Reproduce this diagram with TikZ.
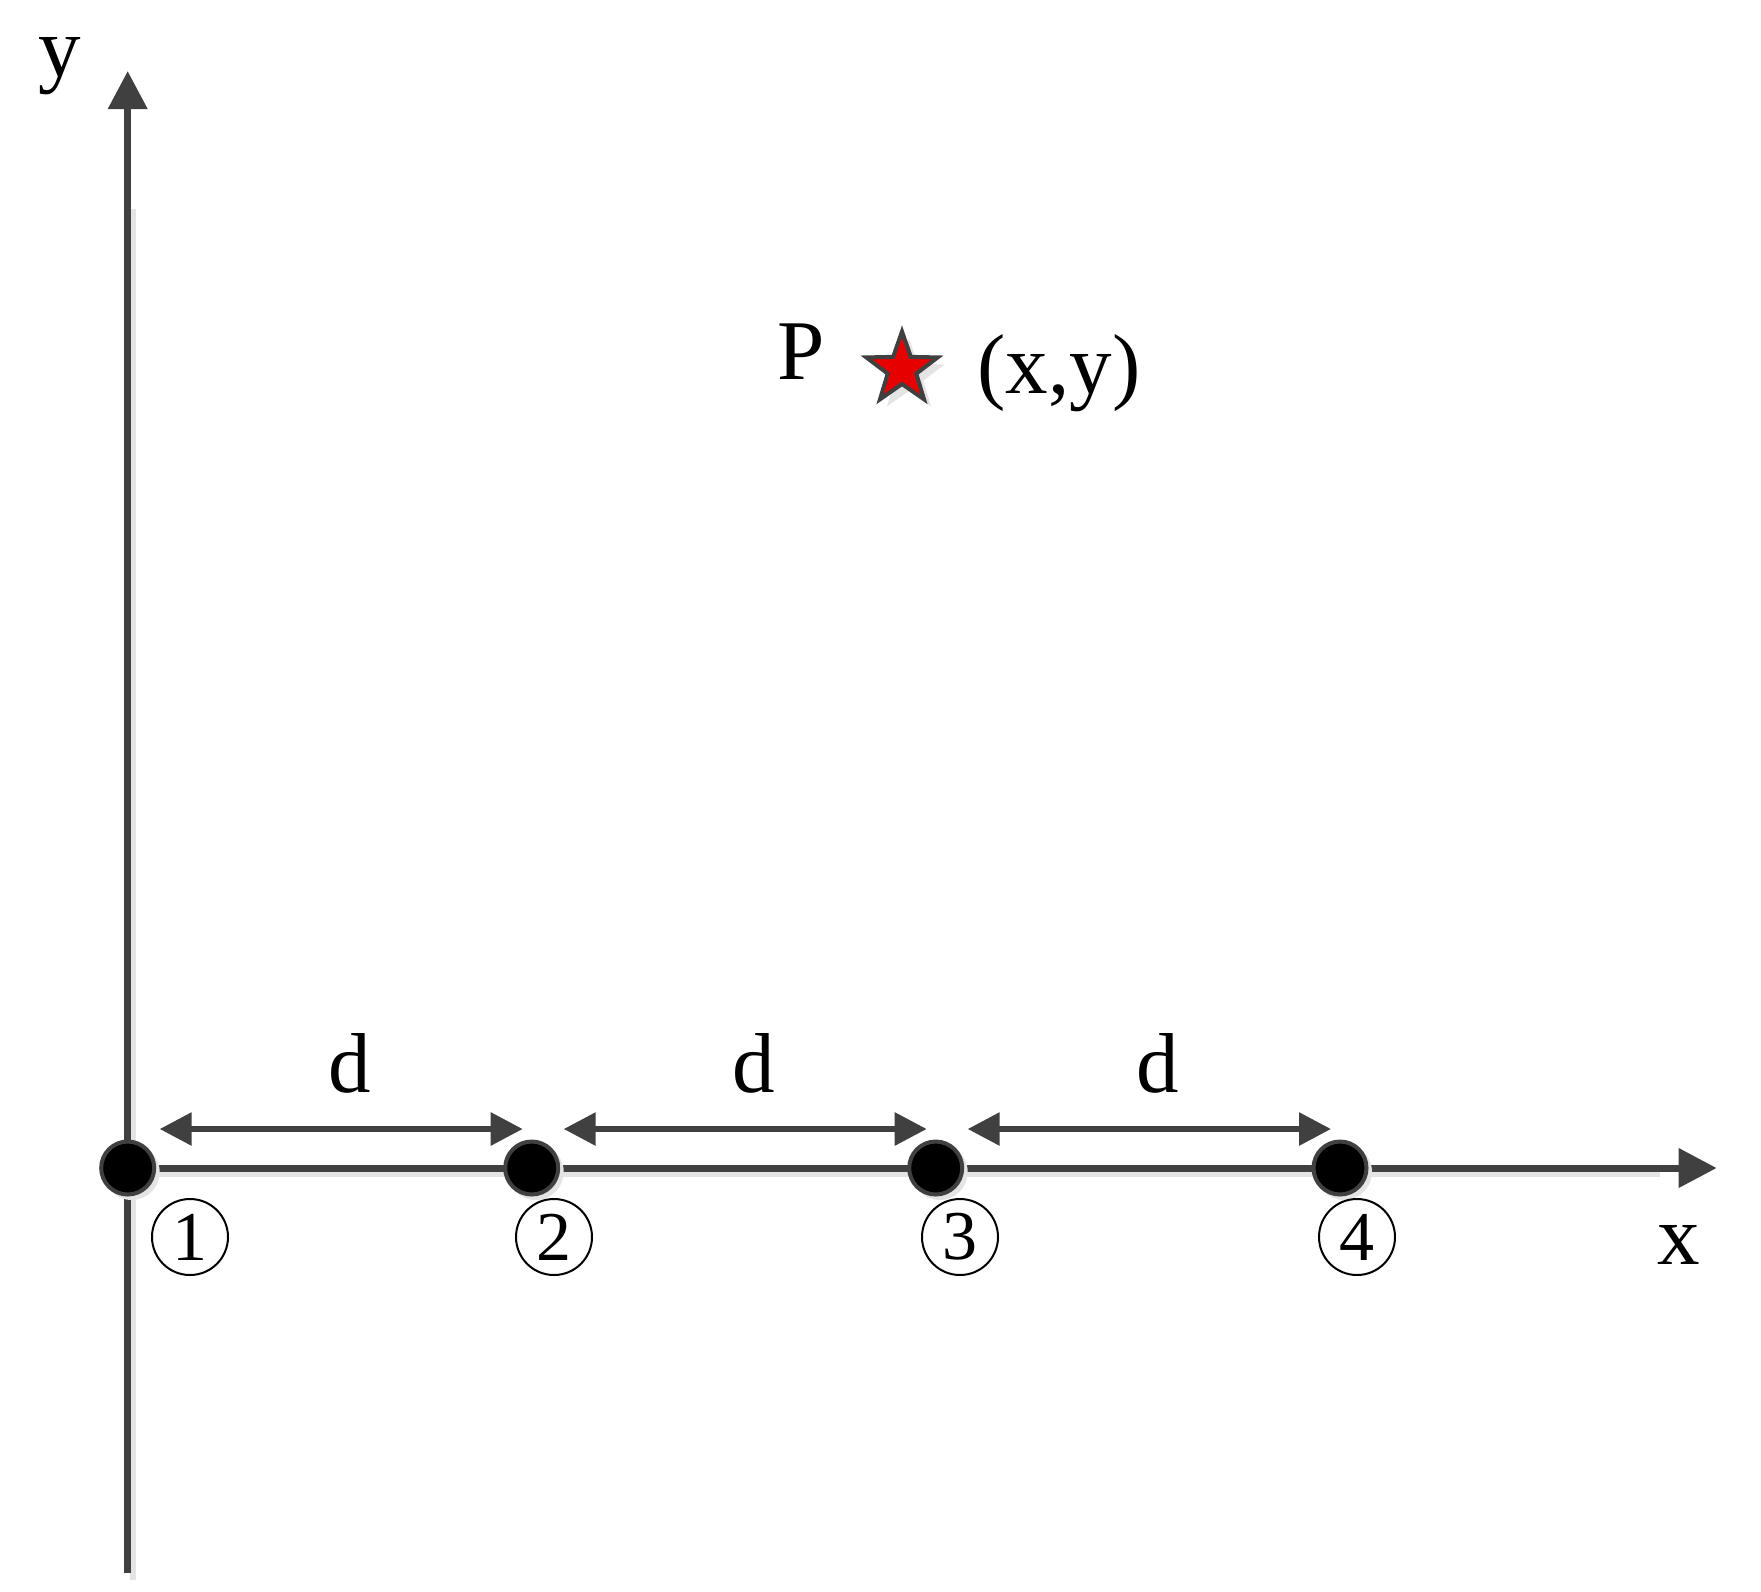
\documentclass[tikz,border=0pt]{standalone}
\usepackage{fontspec}
\setmainfont{Liberation Serif}
\usetikzlibrary{arrows.meta,shapes.geometric}
\definecolor{axisgray}{HTML}{404040}
\definecolor{shadowgray}{HTML}{E4E4E4}
\definecolor{starred}{HTML}{E60000}
\begin{document}
\begin{tikzpicture}[x=0.5pt,y=-0.5pt,
  axisline/.style={draw=axisgray,line width=3.5pt,-{Triangle[length=19pt,width=19pt]}},
  darrow/.style={draw=axisgray,line width=3pt,{Triangle[length=16pt,width=16pt]}-{Triangle[length=16pt,width=16pt]}},
  shadowline/.style={draw=shadowgray,line width=3pt},
  dot/.style={circle,fill=black,draw=axisgray,line width=2pt,minimum size=26.5pt,inner sep=0pt},
  dotshadow/.style={circle,fill=shadowgray,minimum size=28pt,inner sep=0pt},
  lbl/.style={font=\fontsize{42.5}{50}\selectfont,anchor=base,inner sep=0pt},
  circnum/.style={circle,draw=black,line width=1pt,minimum size=38pt,inner sep=0pt,font=\fontsize{35}{40}\selectfont},
  starmark/.style={star,star points=5,star point ratio=2.5,minimum size=37.5pt,inner sep=0pt,fill=starred,draw=axisgray,line width=2pt},
  starshadow/.style={star,star points=5,star point ratio=2.5,minimum size=37.5pt,inner sep=0pt,fill=shadowgray}
]
\useasboundingbox (0,0) rectangle (1761,1591);
% coordinates
\coordinate (yb) at (127.7,1573);
\coordinate (yt) at (127.7,71);
\coordinate (o) at (127.7,1168);
\coordinate (xt) at (1716.7,1168);
% shadows
\draw[shadowline] (133,209) -- (133,1580);
\draw[shadowline] (135,1174) -- (1660,1174);
% axes
\draw[axisline] (yb) -- (yt);
\draw[axisline] (o) -- (xt);
% dots
\foreach \i/\x in {1/127.7,2/531.7,3/935.7,4/1340}{
  \node[dotshadow] at (\x+4,1172) {};
  \node[dot] (d\i) at (\x,1168) {};
}
% distance arrows
\draw[darrow] ([shift={(32,-39)}]d1.center) -- ([shift={(-9,-39)}]d2.center);
\draw[darrow] ([shift={(32,-39)}]d2.center) -- ([shift={(-9,-39)}]d3.center);
\draw[darrow] ([shift={(32,-39)}]d3.center) -- ([shift={(-9,-39)}]d4.center);
% d labels
\node[lbl] (l1) at (350,1092) {d};
\node[lbl] (l2) at (754,1092) {d};
\node[lbl] (l3) at (1158,1092) {d};
% circled numbers
\node[circnum] (c1) at (190,1237) {1};
\node[circnum] (c2) at (554,1237) {2};
\node[circnum] (c3) at (960,1237) {3};
\node[circnum] (c4) at (1357,1237) {4};
% axis labels
\node[lbl] (ylab) at (60,76) {y};
\node[lbl] (xlab) at (1679,1264) {x};
% point P
\node[starshadow] at (909,376) {};
\node[starmark] (p) at (902,369) {};
\node[lbl] (plab) at (801,379) {P};
\node[lbl] (pcoord) at (1059,393) {(x,y)};
\end{tikzpicture}
\end{document}
